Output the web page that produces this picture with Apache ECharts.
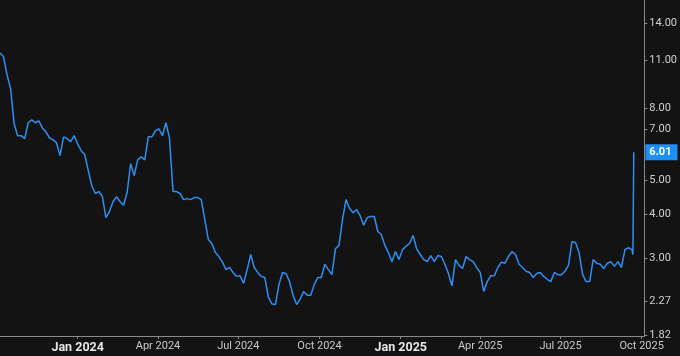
<!DOCTYPE html>
<html>
<head>
<meta charset="utf-8">
<script src="https://cdn.jsdelivr.net/npm/echarts@6/dist/echarts.min.js"></script>
<style>
html,body{margin:0;padding:0;background:#131313;}
#chart{width:680px;height:356px;}
</style>
</head>
<body>
<div id="chart"></div>
<script>
const dates = [
'2023-10-05','2023-10-09','2023-10-13','2023-10-17','2023-10-21','2023-10-25','2023-10-29','2023-11-02','2023-11-06','2023-11-10',
'2023-11-14','2023-11-18','2023-11-22','2023-11-26','2023-11-30','2023-12-04','2023-12-08','2023-12-12','2023-12-16','2023-12-20',
'2023-12-24','2023-12-28',
'2024-01-01','2024-01-05','2024-01-09','2024-01-13','2024-01-17','2024-01-21','2024-01-25','2024-01-29',
'2024-02-02','2024-02-06','2024-02-10','2024-02-14','2024-02-18','2024-02-22','2024-02-26',
'2024-03-01','2024-03-05','2024-03-09','2024-03-13','2024-03-17','2024-03-21','2024-03-25','2024-03-29',
'2024-04-02','2024-04-06','2024-04-10','2024-04-14','2024-04-18','2024-04-22','2024-04-26','2024-04-30',
'2024-05-04','2024-05-08','2024-05-12','2024-05-16','2024-05-20','2024-05-24','2024-05-28',
'2024-06-01','2024-06-05','2024-06-09','2024-06-13','2024-06-17','2024-06-21','2024-06-25','2024-06-29',
'2024-07-03','2024-07-07','2024-07-11','2024-07-15','2024-07-19','2024-07-23','2024-07-27','2024-07-31',
'2024-08-04','2024-08-08','2024-08-12','2024-08-16','2024-08-20','2024-08-24','2024-08-28',
'2024-09-01','2024-09-05','2024-09-09','2024-09-13','2024-09-17','2024-09-21','2024-09-25','2024-09-29',
'2024-10-03','2024-10-07','2024-10-11','2024-10-15','2024-10-19','2024-10-23','2024-10-27','2024-10-31',
'2024-11-04','2024-11-08','2024-11-12','2024-11-16','2024-11-20','2024-11-24','2024-11-28',
'2024-12-02','2024-12-06','2024-12-10','2024-12-14','2024-12-18','2024-12-22','2024-12-26','2024-12-30',
'2025-01-03','2025-01-07','2025-01-11','2025-01-15','2025-01-19','2025-01-23','2025-01-27','2025-01-31',
'2025-02-04','2025-02-08','2025-02-12','2025-02-16','2025-02-20','2025-02-24','2025-02-28',
'2025-03-04','2025-03-08','2025-03-12','2025-03-16','2025-03-20','2025-03-24','2025-03-28',
'2025-04-01','2025-04-05','2025-04-09','2025-04-13','2025-04-17','2025-04-21','2025-04-25','2025-04-29',
'2025-05-03','2025-05-07','2025-05-11','2025-05-15','2025-05-19','2025-05-23','2025-05-27','2025-05-31',
'2025-06-04','2025-06-08','2025-06-12','2025-06-16','2025-06-20','2025-06-24','2025-06-28',
'2025-07-02','2025-07-06','2025-07-10','2025-07-14','2025-07-18','2025-07-22','2025-07-26','2025-07-30',
'2025-08-03','2025-08-07','2025-08-11','2025-08-15','2025-08-19','2025-08-23','2025-08-27','2025-08-31',
'2025-09-04','2025-09-08','2025-09-12','2025-09-16','2025-09-20','2025-09-21','2025-09-22'
];
const prices = [
11.51,11.22,9.97,9.10,7.24,6.70,6.70,6.57,7.29,7.43,
7.29,7.38,7.05,6.87,6.61,6.52,6.40,5.88,6.65,6.57,
6.44,6.70,
6.35,6.07,5.92,5.33,4.83,4.59,4.65,4.50,
3.92,4.08,4.35,4.50,4.35,4.25,4.62,
5.58,5.16,5.72,5.84,5.72,6.65,6.65,6.91,
7.01,6.70,7.29,6.61,4.65,4.65,4.59,4.41,
4.44,4.41,4.47,4.47,4.41,3.87,3.40,
3.31,3.12,3.04,2.93,2.79,2.83,2.74,2.67,
2.68,2.55,2.79,3.08,2.83,2.74,2.67,2.65,
2.33,2.23,2.22,2.53,2.74,2.72,2.58,
2.36,2.22,2.30,2.42,2.36,2.36,2.53,2.65,
2.65,2.89,2.79,2.70,3.20,3.27,3.87,4.41,
4.16,4.05,4.13,3.97,3.73,3.92,3.95,
3.95,3.58,3.51,3.27,3.12,2.94,3.14,2.98,
3.18,3.25,3.31,3.49,3.20,3.08,2.98,2.94,
3.06,2.94,3.06,3.04,2.89,2.72,2.51,
2.98,2.87,2.81,3.04,2.98,2.94,2.83,
2.74,2.42,2.58,2.68,2.68,2.83,2.93,2.91,
3.04,3.14,3.08,2.89,2.83,2.76,2.74,2.65,
2.72,2.74,2.67,2.62,2.58,2.74,2.70,
2.70,2.76,2.87,3.35,3.33,3.12,2.70,2.58,
2.58,2.98,2.91,2.89,2.81,2.91,2.94,2.85,
2.94,2.83,3.18,3.22,3.18,3.08,6.01
];
const yTicks = [1.82, 2.27, 3.00, 4.00, 5.00, 7.00, 8.00, 11.00, 14.00];
const xTicks = ['2024-01-01','2024-04-01','2024-07-01','2024-10-01','2025-01-01','2025-04-01','2025-07-01','2025-10-01'];
const xStart = '2023-10-05';
const xEnd = '2025-10-04';
const monthNames = ['Jan','Feb','Mar','Apr','May','Jun','Jul','Aug','Sep','Oct','Nov','Dec'];
const lastValue = prices[prices.length - 1];

const ts = s => Date.parse(s + 'T00:00:00Z');

const chart = echarts.init(document.getElementById('chart'), null, {renderer: 'canvas'});
const lineColor = '#2e8ff2';
chart.setOption({
  backgroundColor: '#131313',
  animation: false,
  textStyle: {fontFamily: 'Roboto'},
  grid: {left: 0, right: 34, top: 0, bottom: 20, containLabel: false},
  xAxis: {
    type: 'value',
    min: ts(xStart),
    max: ts(xEnd),
    axisLine: {show: true, onZero: false, lineStyle: {color: '#8a8a8a', width: 1}},
    axisTick: {show: true, length: 3, lineStyle: {color: '#8a8a8a'}, customValues: xTicks.map(ts)},
    splitLine: {show: false},
    axisLabel: {
      customValues: xTicks.map(ts),
      margin: 5,
      color: '#c8c8c8',
      fontSize: 11,
      fontFamily: 'Roboto',
      formatter: function (val) {
        const d = new Date(val);
        const m = d.getUTCMonth();
        const s = monthNames[m] + ' ' + d.getUTCFullYear();
        return m === 0 ? '{b|' + s + '}' : s;
      },
      rich: {
        b: {fontSize: 12.5, fontWeight: 'bold', color: '#e6e6e6', fontFamily: 'Roboto'}
      }
    }
  },
  yAxis: {
    type: 'log',
    position: 'right',
    min: 1.808,
    max: 16.27,
    axisLine: {show: true, lineStyle: {color: '#8a8a8a', width: 1}},
    axisTick: {show: true, length: 3, lineStyle: {color: '#8a8a8a'}, customValues: yTicks},
    splitLine: {show: false},
    axisLabel: {
      customValues: yTicks,
      margin: 5,
      color: '#cfcfcf',
      fontSize: 11,
      fontFamily: 'Roboto',
      formatter: function (v) { return Number(v).toFixed(2); }
    }
  },
  series: [{
    type: 'line',
    data: dates.map((d, i) => [ts(d), prices[i]]),
    showSymbol: false,
    symbol: 'none',
    lineStyle: {color: lineColor, width: 1.5},
    itemStyle: {color: lineColor},
    markLine: {
      silent: true,
      symbol: ['none', 'none'],
      lineStyle: {color: 'rgba(0,0,0,0)', width: 1, type: 'solid'},
      data: [{yAxis: lastValue}],
      label: {
        show: true,
        position: 'end',
        distance: 1,
        opacity: 1,
        formatter: lastValue.toFixed(2),
        backgroundColor: '#1f8ef1',
        color: '#ffffff',
        fontWeight: 'bold',
        fontSize: 11,
        fontFamily: 'Roboto',
        padding: [2, 6, 2, 4],
        lineHeight: 12
      }
    }
  }]
});
</script>
</body>
</html>
